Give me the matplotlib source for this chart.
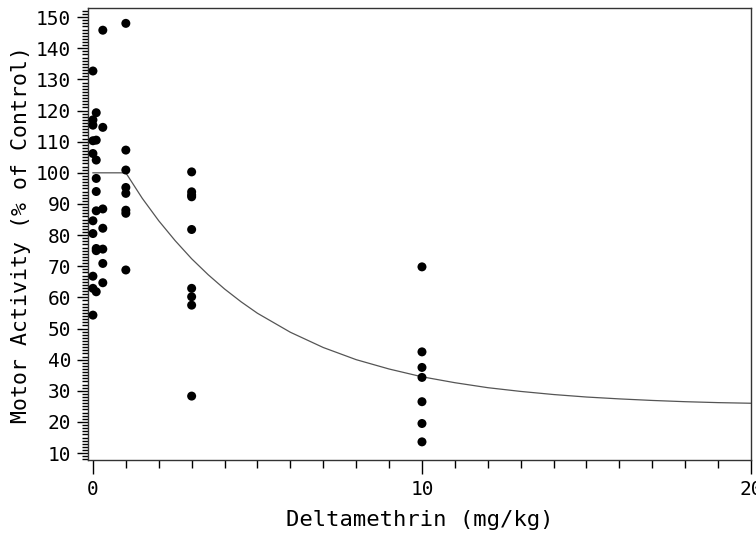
import numpy as np
import matplotlib.pyplot as plt
from matplotlib.ticker import MultipleLocator

# motor activity (% of control) per deltamethrin dose (mg/kg)
doses = [0, 0.1, 0.3, 1, 3, 10]
activity = [
    [132.7, 117.0, 115.3, 110.3, 106.2, 84.6, 80.5, 66.8, 62.9, 54.3],
    [119.3, 110.5, 104.1, 98.2, 94.0, 87.8, 75.7, 75.0, 61.8],
    [145.8, 114.6, 88.4, 82.2, 75.5, 70.9, 64.7],
    [148.0, 107.3, 100.9, 95.3, 93.4, 88.0, 87.0, 68.8],
    [100.3, 93.9, 92.9, 92.3, 81.8, 62.9, 60.2, 57.5, 28.3],
    [69.8, 42.5, 37.5, 34.3, 26.5, 19.5, 13.6],
]

# fitted threshold curve
curve_x = [0, 1, 1.5, 2, 2.5, 3, 3.5, 4, 4.5, 5, 6, 7, 8, 9, 10,
           11, 12, 13, 14, 15, 16, 17, 18, 19, 20]
curve_y = [100, 100, 91.8, 84.6, 78.2, 72.4, 67.3, 62.7, 58.6, 54.9, 48.8,
           43.9, 40.0, 37.0, 34.5, 32.6, 31.0, 29.8, 28.8, 28.0, 27.4,
           26.9, 26.5, 26.2, 26.0]

x_ticks = [0, 10, 20]
y_ticks = list(range(10, 151, 10))

fig, ax = plt.subplots(figsize=(7.56, 5.40), dpi=100)
fig.subplots_adjust(left=0.1164, right=0.9934, bottom=0.148, top=0.985)

ax.plot(curve_x, curve_y, color='#555555', lw=0.9, zorder=2)

for d, vals in zip(doses, activity):
    ax.scatter([d] * len(vals), vals, s=42, color='black', zorder=3,
               edgecolors='none')

ax.set_xlim(-0.15, 20)
ax.set_ylim(7.75, 152.9)
ax.set_xticks(x_ticks)
ax.set_yticks(y_ticks)
ax.xaxis.set_minor_locator(MultipleLocator(1))
ax.yaxis.set_minor_locator(MultipleLocator(1))

font = 'DejaVu Sans Mono'
ax.tick_params(which='major', direction='out', length=8, width=1,
               labelsize=14, pad=4)
ax.tick_params(which='minor', direction='out', length=4, width=1)
ax.tick_params(axis='x', which='major', length=10, pad=4)
ax.tick_params(axis='x', which='minor', length=6)
for lab in ax.get_xticklabels() + ax.get_yticklabels():
    lab.set_family(font)

ax.set_xlabel('Deltamethrin (mg/kg)', fontsize=16, family=font, labelpad=8)
ax.set_ylabel('Motor Activity (% of Control)', fontsize=15.5, family=font,
              labelpad=4)

for sp in ax.spines.values():
    sp.set_linewidth(1)
    sp.set_color('#333333')

plt.savefig('out.png', dpi=100)
